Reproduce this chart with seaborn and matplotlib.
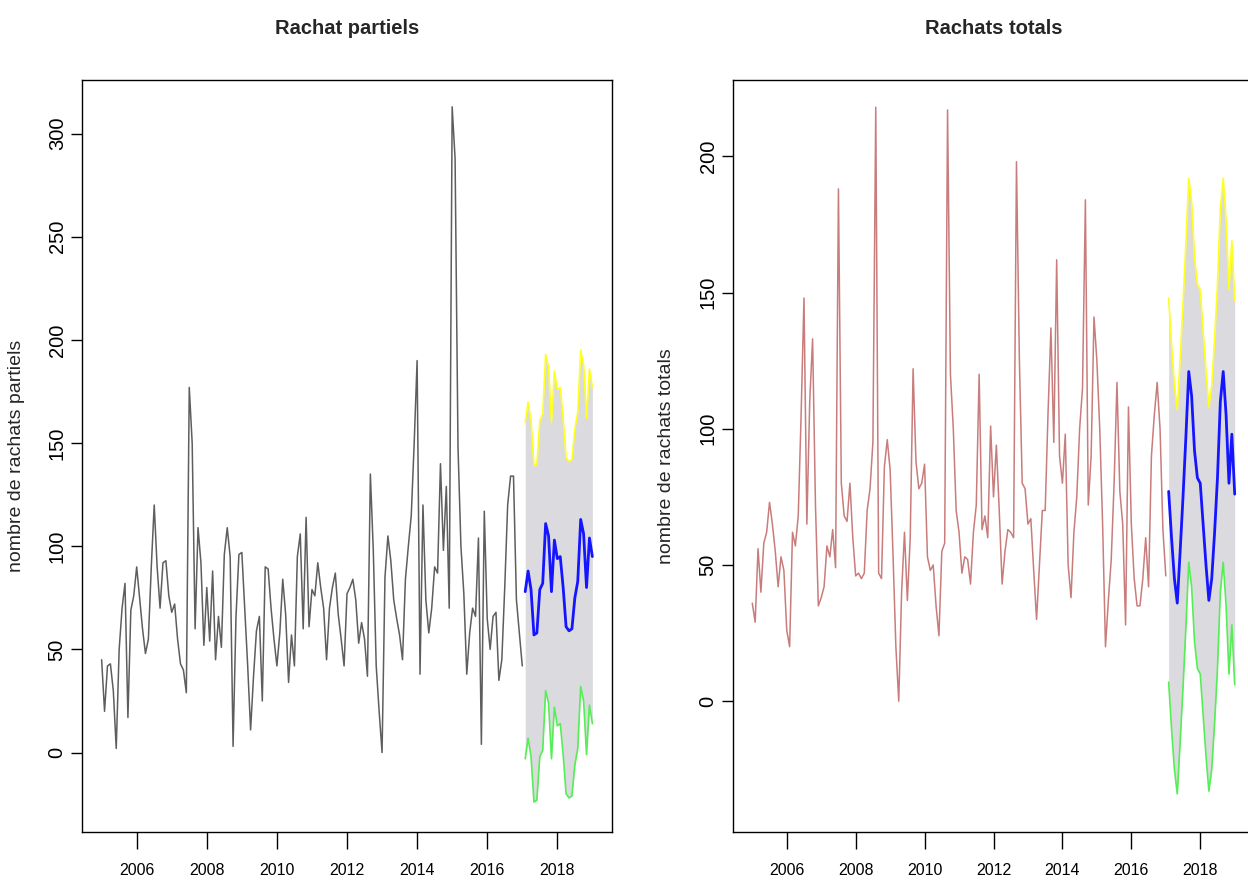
import numpy as np
import pandas as pd
import matplotlib
matplotlib.use("Agg")
import matplotlib.pyplot as plt
import seaborn as sns

# monthly series, Jan 2005 -> Jan 2017 (145 months)
partiels = [45, 20, 42, 43, 30, 2, 50, 70, 82, 17, 69, 76,
            90, 75, 60, 48, 55, 90, 120, 90, 70, 92, 93, 76,
            68, 72, 55, 43, 40, 29, 177, 150, 60, 109, 92, 52,
            80, 54, 88, 45, 66, 51, 96, 109, 95, 3, 66, 96,
            97, 70, 42, 11, 37, 59, 66, 25, 90, 89, 70, 55,
            42, 58, 84, 67, 34, 57, 42, 95, 106, 60, 114, 61,
            79, 76, 92, 80, 70, 45, 70, 80, 87, 67, 55, 42,
            77, 80, 84, 74, 53, 63, 55, 37, 135, 98, 42, 20,
            0, 85, 105, 93, 74, 65, 57, 45, 84, 100, 115, 150,
            190, 38, 120, 74, 58, 70, 90, 87, 140, 98, 129, 70,
            313, 288, 148, 100, 77, 38, 58, 70, 66, 104, 4, 117,
            65, 50, 66, 68, 35, 45, 80, 120, 134, 134, 74, 58,
            42]

totals = [36, 29, 56, 40, 58, 62, 73, 65, 55, 42, 53, 48,
          26, 20, 62, 57, 68, 105, 148, 65, 110, 133, 72, 35,
          38, 42, 57, 53, 63, 49, 188, 80, 68, 66, 80, 60,
          46, 47, 45, 47, 70, 78, 95, 218, 47, 45, 86, 96,
          85, 54, 20, 0, 40, 62, 37, 60, 122, 88, 78, 80,
          87, 53, 48, 50, 35, 24, 55, 58, 217, 120, 100, 70,
          62, 47, 53, 52, 43, 62, 72, 120, 63, 68, 60, 101,
          75, 94, 70, 43, 55, 63, 62, 60, 198, 126, 80, 78,
          65, 67, 48, 30, 50, 70, 70, 106, 137, 95, 162, 90,
          80, 98, 50, 38, 62, 75, 100, 115, 184, 72, 90, 141,
          125, 100, 65, 20, 37, 52, 80, 117, 77, 65, 28, 108,
          65, 45, 35, 35, 45, 60, 42, 90, 105, 117, 100, 63,
          46]

# forecasts, Feb 2017 -> Jan 2019 (24 months)
partiels_mean = [78, 88, 79, 57, 58, 79, 82, 111, 105, 78, 103, 94,
                 95, 80, 61, 59, 60, 75, 83, 113, 106, 80, 104, 95]
partiels_high = [160, 170, 161, 139, 140, 161, 164, 193, 187, 160, 185, 176,
                 177, 162, 143, 141, 142, 157, 165, 195, 188, 162, 186, 177]
partiels_low = [-3, 7, -2, -24, -23, -2, 1, 30, 24, -3, 22, 13,
                14, -1, -20, -22, -21, -6, 2, 32, 25, -1, 23, 14]

totals_mean = [77, 60, 45, 36, 55, 75, 97, 121, 112, 92, 82, 80,
               65, 50, 37, 45, 62, 82, 110, 121, 105, 80, 98, 76]
totals_high = [148, 131, 116, 107, 126, 146, 168, 192, 183, 163, 153, 151,
               136, 121, 108, 116, 133, 153, 181, 192, 176, 151, 169, 147]
totals_low = [7, -10, -25, -34, -15, 5, 27, 51, 42, 22, 12, 10,
              -5, -20, -33, -25, -8, 12, 40, 51, 35, 10, 28, 6]

years = [2006, 2008, 2010, 2012, 2014, 2016, 2018]

sns.set_style("ticks")
plt.rcParams['font.family'] = ['Liberation Sans', 'DejaVu Sans']

t_obs = 2005 + np.arange(len(partiels)) / 12
t_fc = 2005 + np.arange(len(partiels), len(partiels) + len(partiels_mean)) / 12

fig = plt.figure(figsize=(12.48, 8.82), dpi=100)
ax1 = fig.add_axes([82 / 1248, 50 / 882, 530 / 1248, 752 / 882])
ax2 = fig.add_axes([733 / 1248, 50 / 882, 521 / 1248, 752 / 882])

panels = [
    (ax1, partiels, partiels_mean, partiels_high, partiels_low, "#5e5e5e",
     "Rachat partiels", "nombre de rachats partiels", (-38.5, 326), range(0, 301, 50)),
    (ax2, totals, totals_mean, totals_high, totals_low, "#c97c7c",
     "Rachats totals", "nombre de rachats totals", (-48, 228), range(0, 201, 50)),
]

for ax, obs, mean, high, low, col, title, ylab, ylim, yt in panels:
    ax.fill_between(t_fc, low, high, color="#dadadf", linewidth=0)
    df_obs = pd.DataFrame({"t": t_obs, "v": obs})
    sns.lineplot(data=df_obs, x="t", y="v", ax=ax, color=col, linewidth=1.1)
    df_fc = pd.DataFrame({"t": t_fc, "mean": mean, "high": high, "low": low})
    sns.lineplot(data=df_fc, x="t", y="high", ax=ax, color="#ffff22", linewidth=1.2)
    sns.lineplot(data=df_fc, x="t", y="low", ax=ax, color="#55ee55", linewidth=1.2)
    sns.lineplot(data=df_fc, x="t", y="mean", ax=ax, color="#1515ff", linewidth=2)

    ax.set_xlim(2004.44, 2019.56)
    ax.set_ylim(*ylim)
    ax.set_xticks(years)
    ax.set_xticklabels([str(y) for y in years], fontsize=11.5)
    ax.set_yticks(list(yt))
    ax.set_yticklabels([str(v) for v in yt], fontsize=14.5, rotation=90, va="center")
    ax.tick_params(axis="x", length=12, width=1, pad=10, colors="black")
    ax.tick_params(axis="y", length=8, width=1, pad=3, colors="black")
    for s in ax.spines.values():
        s.set_visible(True)
        s.set_color("black")
        s.set_linewidth(1)
    ax.set_xlabel("")
    ax.set_ylabel(ylab, fontsize=14)
    ax.set_title(title, fontsize=14.5, fontweight="bold", pad=33)

ax1.yaxis.set_label_coords(-57 / 530, 0.5)
ax2.yaxis.set_label_coords(-58 / 521, 0.5)

fig.savefig("out.png", dpi=100)
